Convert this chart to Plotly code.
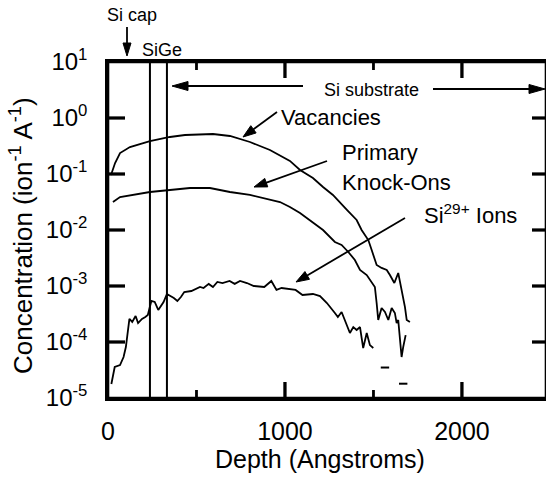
import math
import plotly.graph_objects as go

# ---------------- data ----------------
vac_depth = [17, 40, 68, 124, 237, 350, 435, 593, 689, 802, 915, 1028, 1085, 1158, 1215,
             1271, 1350, 1405, 1433, 1471, 1490, 1518, 1546, 1575, 1593, 1618, 1640,
             1659, 1678, 1688, 1706]
vac_conc = [0.096, 0.157, 0.237, 0.303, 0.388, 0.458, 0.497, 0.518, 0.477, 0.373, 0.268,
            0.171, 0.118, 0.0849, 0.0586, 0.0422, 0.0228, 0.0151, 0.0100, 0.00662,
            0.00439, 0.00237, 0.00210, 0.00193, 0.00157, 0.00113, 0.00171, 0.00085,
            0.00042, 0.000247, 0.000228]

pko_depth = [28, 68, 237, 350, 463, 576, 689, 802, 915, 972, 1028, 1085, 1215, 1282, 1320,
             1358, 1395, 1424, 1462, 1490, 1508, 1518, 1527, 1546, 1565, 1584, 1603, 1621,
             1631, 1640, 1659, 1668, 1682]
pko_conc = [0.0316, 0.0388, 0.0477, 0.0518, 0.0562, 0.0562, 0.0477, 0.0422, 0.0343, 0.0316,
            0.0258, 0.0201, 0.0100, 0.00611, 0.00540, 0.00405, 0.00291, 0.00193, 0.00157,
            0.00118, 0.000960, 0.000497, 0.000247, 0.000405, 0.000343, 0.000247, 0.000405,
            0.000330, 0.000218, 0.000247, 5.4e-5, 8.1e-5, 0.000133]

ion_depth = [19, 38, 68, 88, 101, 121, 137, 156, 170, 192, 211, 225, 245, 264, 284, 314,
             333, 372, 392, 412, 431, 471, 520, 540, 569, 593, 618, 647, 687, 716, 746, 785,
             824, 883, 923, 952, 981, 1021, 1060, 1099, 1158, 1198, 1237, 1282, 1299, 1320,
             1339, 1367, 1386, 1405, 1424, 1442, 1462, 1480, 1499]
ion_conc = [1.78e-5, 3.58e-5, 3.88e-5, 5.40e-5, 8.14e-5, 2.58e-4, 2.28e-4, 2.91e-4, 2.18e-4,
            2.58e-4, 2.79e-4, 3.03e-4, 5.40e-4, 5.18e-4, 3.73e-4, 5.18e-4, 7.20e-4, 6.11e-4,
            5.40e-4, 6.37e-4, 7.81e-4, 8.14e-4, 9.60e-4, 9.20e-4, 1.09e-3, 9.60e-4, 1.18e-3,
            1.13e-3, 1.23e-3, 1.09e-3, 1.23e-3, 1.13e-3, 1.00e-3, 9.60e-4, 1.23e-3, 8.50e-4,
            9.20e-4, 8.80e-4, 8.50e-4, 6.90e-4, 7.20e-4, 6.60e-4, 4.97e-4, 3.30e-4, 2.79e-4,
            3.43e-4, 2.47e-4, 1.45e-4, 1.85e-4, 1.64e-4, 1.85e-4, 7.8e-5, 1.45e-4, 8.8e-5,
            7.8e-5]

iso_depth = [1565, 1668]
iso_conc = [3.5e-5, 1.8e-5]

layer_bounds = [237, 333]

x_tickvals = [0, 1000, 2000]
x_ticktext = ["0", "1000", "2000"]
x_minor_tickvals = [500, 1500]
y_tickvals = [10, 1, 0.1, 0.01, 1e-3, 1e-4, 1e-5]
y_ticktext = ["10<sup>1</sup>", "10<sup>0</sup>", "10<sup>-1</sup>", "10<sup>-2</sup>",
              "10<sup>-3</sup>", "10<sup>-4</sup>", "10<sup>-5</sup>"]

# ---------------- layout geometry ----------------
W, H = 546, 479
L, R, T, B = 108, 0, 62, 81
PW, PH = W - L - R, H - T - B
X_RANGE = [0, 2475]
Y_RANGE = [-5, 1]          # decades
FONT = "Liberation Sans, Arial, Helvetica, sans-serif"


def px(x):
    return (x - L) / PW


def py(y):
    return (H - B - y) / PH


fig = go.Figure()
line_style = dict(color="black", width=1.8)
fig.add_trace(go.Scatter(x=vac_depth, y=vac_conc, mode="lines", line=line_style,
                         name="Vacancies"))
fig.add_trace(go.Scatter(x=pko_depth, y=pko_conc, mode="lines", line=line_style,
                         name="Primary Knock-Ons"))
fig.add_trace(go.Scatter(x=ion_depth, y=ion_conc, mode="lines", line=line_style,
                         name="Si29+ Ions"))
fig.add_trace(go.Scatter(x=iso_depth, y=iso_conc, mode="markers",
                         marker=dict(symbol="line-ew", size=6,
                                     line=dict(color="black", width=2)),
                         name="isolated"))

shapes = []
for b in layer_bounds:
    shapes.append(dict(type="line", xref="x", yref="paper", x0=b, x1=b, y0=0, y1=1,
                       line=dict(color="black", width=2)))

# ---- plot frame with inward tick marks, as one closed path built from tick lists ----
XPX = (X_RANGE[1] - X_RANGE[0]) / PW      # depth units per pixel
YPX = (Y_RANGE[1] - Y_RANGE[0]) / PH      # decades per pixel


def xf(v):
    return (v - X_RANGE[0]) / (X_RANGE[1] - X_RANGE[0])


def yf(v):
    return (math.log10(v) - Y_RANGE[0]) / (Y_RANGE[1] - Y_RANGE[0])


xt = sorted([(xf(v), 16) for v in x_tickvals if 0 < xf(v) < 1]
            + [(xf(v), 8) for v in x_minor_tickvals if 0 < xf(v) < 1])
yt = sorted(yf(v) for v in y_tickvals if 1e-9 < yf(v) < 1 - 1e-9)

pts = [(0, 0)]
for f, ln in xt:                                   # bottom, left -> right
    pts += [(f, 0), (f, ln / PH), (f, 0)]
pts.append((1, 0))
for f in yt:                                       # right, bottom -> top
    pts += [(1, f), (1 - 14 / PW, f), (1, f)]
pts.append((1, 1))
for f, ln in reversed(xt):                         # top, right -> left
    pts += [(f, 1), (f, 1 - ln / PH), (f, 1)]
pts.append((0, 1))
for f in reversed(yt):                             # left, top -> bottom
    pts += [(0, f), (17 / PW, f), (0, f)]
frame_path = "M " + " L ".join(f"{a:.5f},{b:.5f}" for a, b in pts) + " Z"
shapes.append(dict(type="path", xref="paper", yref="paper", path=frame_path,
                   layer="above", line=dict(color="black", width=2.6)))

# the same ticks again as line traces, one pixel inside the frame
INSET = 1.0
for vals, ln, w in ((x_tickvals, 16, 3), (x_minor_tickvals, 8, 2)):
    for v in vals:
        if v == X_RANGE[0]:
            continue
        fig.add_trace(go.Scatter(
            x=[v, v], y=[10 ** (Y_RANGE[1] - INSET * YPX), 10 ** (Y_RANGE[1] - ln * YPX)],
            mode="lines", line=dict(color="black", width=w), hoverinfo="skip",
            cliponaxis=False, name="xtick-top"))
        fig.add_trace(go.Scatter(
            x=[v, v], y=[10 ** (Y_RANGE[0] + ln * YPX), 10 ** (Y_RANGE[0] + INSET * YPX)],
            mode="lines", line=dict(color="black", width=w), hoverinfo="skip",
            cliponaxis=False, name="xtick-bottom"))
for v in y_tickvals:
    lv = math.log10(v)
    if lv <= Y_RANGE[0] + 1e-9 or lv >= Y_RANGE[1] - 1e-9:
        continue
    fig.add_trace(go.Scatter(
        x=[X_RANGE[0] + 17 * XPX, X_RANGE[0] + INSET * XPX], y=[v, v],
        mode="lines", line=dict(color="black", width=3), hoverinfo="skip",
        cliponaxis=False, name="ytick-left"))
    fig.add_trace(go.Scatter(
        x=[X_RANGE[1] - 14 * XPX, X_RANGE[1] - INSET * XPX], y=[v, v],
        mode="lines", line=dict(color="black", width=3), hoverinfo="skip",
        cliponaxis=False, name="ytick-right"))


def arrow(tail, tip, hl=13, hw=9, lw=1.8):
    (sx, sy), (tx, ty) = tail, tip
    dx, dy = tx - sx, ty - sy
    n = math.hypot(dx, dy)
    ux, uy = dx / n, dy / n
    bx, by = tx - ux * hl, ty - uy * hl
    nx, ny = -uy, ux
    shapes.append(dict(type="line", xref="paper", yref="paper",
                       x0=px(sx), y0=py(sy), x1=px(bx + ux * 2), y1=py(by + uy * 2),
                       line=dict(color="black", width=lw)))
    p1 = (bx + nx * hw / 2, by + ny * hw / 2)
    p2 = (bx - nx * hw / 2, by - ny * hw / 2)
    path = (f"M {px(tx)},{py(ty)} L {px(p1[0])},{py(p1[1])} "
            f"L {px(p2[0])},{py(p2[1])} Z")
    shapes.append(dict(type="path", xref="paper", yref="paper", path=path,
                       fillcolor="black", line=dict(color="black", width=1)))


arrow((127, 27), (127, 56), hl=13, hw=8)
arrow((303, 86), (172, 86), hl=16, hw=9)
arrow((433, 89), (545, 89), hl=16, hw=9)
arrow((277, 112), (243, 137))
arrow((327, 161), (254, 187))
arrow((405, 218), (296, 282))

annotations = []


def text(s, x, y, size, xanchor="center", yanchor="middle"):
    annotations.append(dict(text=s, x=px(x), y=py(y), xref="paper", yref="paper",
                            showarrow=False, xanchor=xanchor, yanchor=yanchor,
                            font=dict(family=FONT, size=size, color="black")))


text("Si cap", 132, 15, 18)
text("SiGe", 162, 50, 18)
text("Si substrate", 371, 90, 18)
text("Vacancies", 279, 118, 22, xanchor="left")
text("Primary", 340, 152, 22, xanchor="left")
text("Knock-Ons", 340, 182, 22, xanchor="left")
text("Si<sup>29+</sup> Ions", 422, 214, 22, xanchor="left")
text("Depth (Angstroms)", 320, 459, 25)
annotations.append(dict(text="Concentration (ion<sup>-1</sup> A<sup>-1</sup>)",
                        x=px(22), y=py(236), xref="paper", yref="paper",
                        showarrow=False, textangle=-90, xanchor="center",
                        yanchor="middle",
                        font=dict(family=FONT, size=26, color="black")))

fig.update_layout(
    width=W, height=H,
    margin=dict(l=L, r=R, t=T, b=B, pad=0),
    paper_bgcolor="white", plot_bgcolor="white",
    showlegend=False,
    font=dict(family=FONT, color="black"),
    shapes=shapes,
    annotations=annotations,
)
fig.update_xaxes(
    range=X_RANGE, showgrid=False, zeroline=False, automargin=False,
    showline=True, linecolor="black", linewidth=2.5, mirror=True,
    ticks="", tickmode="array", tickvals=x_tickvals, ticktext=x_ticktext,
    tickfont=dict(family=FONT, size=25, color="black"), ticklabelstandoff=9,
)
fig.update_yaxes(
    type="log", range=Y_RANGE, showgrid=False, zeroline=False, automargin=False,
    showline=True, linecolor="black", linewidth=2.5, mirror=True,
    ticks="", tickmode="array", tickvals=y_tickvals, ticktext=y_ticktext,
    tickfont=dict(family=FONT, size=24, color="black"), ticklabelstandoff=13,
)

fig.write_html("out.html", config={"displayModeBar": False})
